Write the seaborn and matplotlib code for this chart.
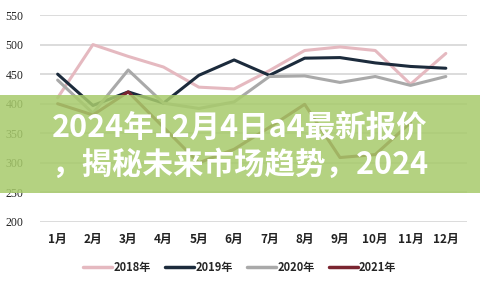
import matplotlib
matplotlib.use("Agg")
import matplotlib.pyplot as plt
import seaborn as sns
import pandas as pd
import numpy as np
from matplotlib.patches import Rectangle

months = ["1月", "2月", "3月", "4月", "5月", "6月", "7月", "8月", "9月", "10月", "11月", "12月"]
y2018 = [410, 500, 480, 462, 428, 425, 456, 490, 496, 490, 433, 485]
y2019 = [450, 397, 420, 401, 448, 474, 448, 477, 478, 469, 463, 460]
y2020 = [440, 384, 457, 401, 392, 403, 446, 447, 436, 446, 431, 446]
y2021 = [400, 381, 420, 360, 300, 323, 360, 399, 309, 314, 368, np.nan]
series_names = ["2018年", "2019年", "2020年", "2021年"]
yticks = [200, 250, 300, 350, 400, 450, 500, 550]
title_line1 = "2024年12月4日a4最新报价"
title_line2 = "，揭秘未来市场趋势，2024"

colors = ["#e5b9c0", "#1c2b3c", "#a9a9a9", "#7a2530"]

rows = []
for name, vals in zip(series_names, [y2018, y2019, y2020, y2021]):
    for i, v in enumerate(vals):
        rows.append({"month": i, "value": v, "year": name})
df = pd.DataFrame(rows)

sns.set_style("white")
plt.rcParams['font.family'] = ['Noto Sans CJK SC', 'DejaVu Sans']

fig = plt.figure(figsize=(4.8, 2.88), dpi=100)
ax = fig.add_axes([40/480, 1-222/288, (467-40)/480, (222-15)/288])

sns.lineplot(data=df, x="month", y="value", hue="year", palette=colors,
             linewidth=2.2, ax=ax, legend=False, sort=False)

ax.set_xlim(-0.5, 11.6)
ax.set_ylim(200, 550)
ax.set_yticks(yticks)
ax.set_xticks(range(12))
ax.set_xticklabels(months)
ax.yaxis.grid(True, color="#d9d9d9", linewidth=1.3)
ax.set_axisbelow(True)
for s in ax.spines.values():
    s.set_visible(False)
ax.set_xlabel("")
ax.set_ylabel("")
ax.tick_params(axis="both", length=0)
ax.tick_params(axis="y", pad=12)
ax.tick_params(axis="x", pad=8)
for lab in ax.get_yticklabels():
    lab.set_fontfamily(["Liberation Serif", "DejaVu Serif"])
    lab.set_fontsize(8.5)
    lab.set_color("#222222")
for lab in ax.get_xticklabels():
    lab.set_fontfamily(["Noto Sans CJK SC", "DejaVu Sans"])
    lab.set_fontsize(8.5)
    lab.set_fontweight("bold")
    lab.set_color("#222222")

handles = [plt.Line2D([], [], color=c, linewidth=2.5) for c in colors]
leg = fig.legend(handles, series_names, loc="center", bbox_to_anchor=(0.5, 1-267/288),
                 ncol=4, frameon=False, handlelength=2.6, handletextpad=0.1,
                 columnspacing=1.3, prop={"family": ["Noto Sans CJK SC", "DejaVu Sans"], "size": 8, "weight": "bold"})

# green banner overlay
fig.patches.append(Rectangle((0, 1-193/288), 1, 98/288, transform=fig.transFigure,
                             facecolor="#a8cb6c", alpha=0.86, edgecolor="none", zorder=5))
fig.text(0.5, 1-128/288, title_line1, ha="center", va="center", color="white",
         fontsize=22, fontweight="bold", family=["Noto Sans CJK SC", "DejaVu Sans"], zorder=6)
fig.text(0.5, 1-165/288, title_line2, ha="center", va="center", color="white",
         fontsize=22, fontweight="bold", family=["Noto Sans CJK SC", "DejaVu Sans"], zorder=6)

fig.savefig("out.png", dpi=100)
